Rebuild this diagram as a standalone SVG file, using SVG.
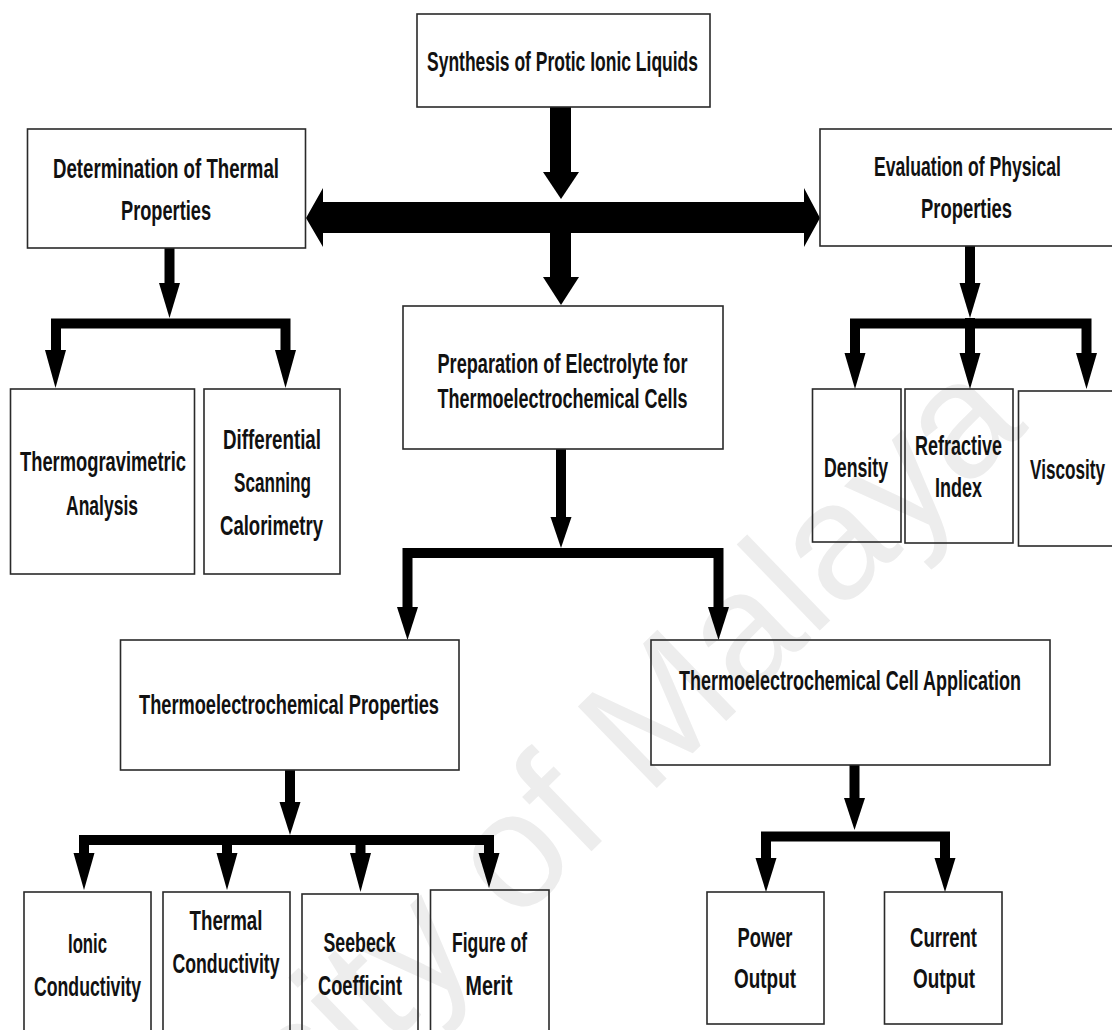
<svg xmlns="http://www.w3.org/2000/svg" width="1112" height="1030" viewBox="0 0 1112 1030">
<style>
.box{fill:none;stroke:#2a2a2a;stroke-width:1.6}
.t{font-family:"Liberation Sans",Arial,sans-serif;font-weight:bold;font-size:28px;fill:#111;text-anchor:middle}
.ln{stroke:#000;stroke-width:10;fill:none}
.hd{fill:#000}
.wm{font-family:"Liberation Sans",Arial,sans-serif;font-weight:normal;font-size:165px;fill:#ededed}
</style>
<rect width="1112" height="1030" fill="#fff"/>
<text class="wm" x="515" y="925" text-anchor="start" transform="rotate(-44 515 925)">of Malaya</text>
<text class="wm" x="515" y="925" text-anchor="end" transform="rotate(-44 515 925) translate(-46 0)">University</text>

<g id="connectors">
  <!-- synthesis trunk -->
  <rect x="550" y="107" width="21" height="70" class="hd"/>
  <polygon class="hd" points="543,172 579,172 561,199"/>
  <polygon class="hd" points="306,218 323,188 323,202 804,202 804,188 820,218 804,247 804,233 323,233 323,247"/>
  <rect x="550" y="233" width="21" height="46" class="hd"/>
  <polygon class="hd" points="543,277 579,277 561,305"/>
  <!-- determination -->
  <line class="ln" x1="169.5" y1="248" x2="169.5" y2="286"/>
  <polygon class="hd" points="159,283 180,283 169.5,318"/>
  <polyline class="ln" points="56,352 56,323.5 285.5,323.5 285.5,352"/>
  <polygon class="hd" points="45,350 66,350 55.5,388"/>
  <polygon class="hd" points="275,350 296,350 285.5,388"/>
  <!-- evaluation -->
  <line class="ln" x1="970" y1="246" x2="970" y2="286"/>
  <polygon class="hd" points="959.5,283 980.5,283 970,318"/>
  <polyline class="ln" points="855,356 855,323.5 1086.5,323.5 1086.5,356"/>
  <line class="ln" x1="970" y1="318" x2="970" y2="356"/>
  <polygon class="hd" points="844.5,353 865.5,353 855,389"/>
  <polygon class="hd" points="959.5,353 980.5,353 970,389"/>
  <polygon class="hd" points="1076,353 1097,353 1086.5,389"/>
  <!-- preparation -->
  <line class="ln" x1="561" y1="449" x2="561" y2="520"/>
  <polygon class="hd" points="550.5,517 571.5,517 561,548"/>
  <polyline class="ln" points="407.5,610 407.5,553 718.5,553 718.5,610"/>
  <polygon class="hd" points="397,607 418,607 407.5,640"/>
  <polygon class="hd" points="708,607 729,607 718.5,640"/>
  <!-- thermoelectrochemical properties -->
  <line class="ln" x1="290" y1="770" x2="290" y2="805"/>
  <polygon class="hd" points="279.5,802 300.5,802 290,835"/>
  <polyline class="ln" points="84,856 84,840 489,840 489,856"/>
  <line class="ln" x1="227" y1="840" x2="227" y2="856"/>
  <line class="ln" x1="360.5" y1="840" x2="360.5" y2="856"/>
  <polygon class="hd" points="73.5,853 94.5,853 84,890"/>
  <polygon class="hd" points="216.5,853 237.5,853 227,890"/>
  <polygon class="hd" points="350,853 371,853 360.5,892"/>
  <polygon class="hd" points="478.5,853 499.5,853 489,888"/>
  <!-- cell application -->
  <line class="ln" x1="854.5" y1="765" x2="854.5" y2="801"/>
  <polygon class="hd" points="844,798 865,798 854.5,830"/>
  <polyline class="ln" points="766,861 766,836.5 945,836.5 945,861"/>
  <polygon class="hd" points="755.5,858 776.5,858 766,892"/>
  <polygon class="hd" points="934.5,858 955.5,858 945,892"/>
</g>

<g id="synthesis">
  <rect class="box" x="417" y="14" width="293" height="93"/>
  <text class="t" x="562.5" y="71" textLength="271" lengthAdjust="spacingAndGlyphs">Synthesis of Protic Ionic Liquids</text>
</g>
<g id="determination">
  <rect class="box" x="27.5" y="129" width="278" height="119"/>
  <text class="t" x="166" y="178" textLength="226" lengthAdjust="spacingAndGlyphs">Determination of Thermal</text>
  <text class="t" x="166" y="220" textLength="90" lengthAdjust="spacingAndGlyphs">Properties</text>
</g>
<g id="evaluation">
  <rect class="box" x="820" y="129" width="300" height="117"/>
  <text class="t" x="967.5" y="176" textLength="187" lengthAdjust="spacingAndGlyphs">Evaluation of Physical</text>
  <text class="t" x="966.5" y="218" textLength="91" lengthAdjust="spacingAndGlyphs">Properties</text>
</g>
<g id="preparation">
  <rect class="box" x="403" y="306" width="320" height="143"/>
  <text class="t" x="562.5" y="373" textLength="250" lengthAdjust="spacingAndGlyphs">Preparation of Electrolyte for</text>
  <text class="t" x="562.5" y="408" textLength="250" lengthAdjust="spacingAndGlyphs">Thermoelectrochemical Cells</text>
</g>
<g id="tga">
  <rect class="box" x="10.5" y="389" width="184" height="185"/>
  <text class="t" x="103" y="471" textLength="166" lengthAdjust="spacingAndGlyphs">Thermogravimetric</text>
  <text class="t" x="102" y="515" textLength="72" lengthAdjust="spacingAndGlyphs">Analysis</text>
</g>
<g id="dsc">
  <rect class="box" x="204" y="389" width="136" height="185"/>
  <text class="t" x="272" y="449" textLength="98" lengthAdjust="spacingAndGlyphs">Differential</text>
  <text class="t" x="272.5" y="492" textLength="77" lengthAdjust="spacingAndGlyphs">Scanning</text>
  <text class="t" x="271.5" y="535" textLength="103" lengthAdjust="spacingAndGlyphs">Calorimetry</text>
</g>
<g id="density">
  <rect class="box" x="812.5" y="389" width="88.5" height="153"/>
  <text class="t" x="856" y="477" textLength="64" lengthAdjust="spacingAndGlyphs">Density</text>
</g>
<g id="refractive">
  <rect class="box" x="905" y="389" width="108" height="154"/>
  <text class="t" x="958.5" y="455" textLength="87" lengthAdjust="spacingAndGlyphs">Refractive</text>
  <text class="t" x="958.5" y="497" textLength="47" lengthAdjust="spacingAndGlyphs">Index</text>
</g>
<g id="viscosity">
  <rect class="box" x="1018.5" y="391" width="100" height="155"/>
  <text class="t" x="1067.5" y="479" textLength="75" lengthAdjust="spacingAndGlyphs">Viscosity</text>
</g>
<g id="te-properties">
  <rect class="box" x="120.5" y="640" width="338.5" height="130"/>
  <text class="t" x="289" y="714" textLength="300" lengthAdjust="spacingAndGlyphs">Thermoelectrochemical Properties</text>
</g>
<g id="cell-application">
  <rect class="box" x="651" y="640" width="399" height="125"/>
  <text class="t" x="850" y="690" textLength="342" lengthAdjust="spacingAndGlyphs">Thermoelectrochemical Cell Application</text>
</g>
<g id="ionic">
  <rect class="box" x="24" y="892" width="127" height="145"/>
  <text class="t" x="87.5" y="953" textLength="39" lengthAdjust="spacingAndGlyphs">Ionic</text>
  <text class="t" x="87.5" y="996" textLength="107" lengthAdjust="spacingAndGlyphs">Conductivity</text>
</g>
<g id="thermal">
  <rect class="box" x="163" y="892" width="127" height="145"/>
  <text class="t" x="226" y="930" textLength="73" lengthAdjust="spacingAndGlyphs">Thermal</text>
  <text class="t" x="226" y="973" textLength="107" lengthAdjust="spacingAndGlyphs">Conductivity</text>
</g>
<g id="seebeck">
  <rect class="box" x="302" y="894" width="116" height="145"/>
  <text class="t" x="359.5" y="952" textLength="72" lengthAdjust="spacingAndGlyphs">Seebeck</text>
  <text class="t" x="360" y="995" textLength="84" lengthAdjust="spacingAndGlyphs">Coefficint</text>
</g>
<g id="figure">
  <rect class="box" x="430.5" y="890" width="118.5" height="147"/>
  <text class="t" x="489.5" y="952" textLength="75" lengthAdjust="spacingAndGlyphs">Figure of</text>
  <text class="t" x="489" y="995" textLength="47" lengthAdjust="spacingAndGlyphs">Merit</text>
</g>
<g id="power">
  <rect class="box" x="707" y="892" width="117" height="132"/>
  <text class="t" x="765" y="947" textLength="55" lengthAdjust="spacingAndGlyphs">Power</text>
  <text class="t" x="765" y="988" textLength="62" lengthAdjust="spacingAndGlyphs">Output</text>
</g>
<g id="current">
  <rect class="box" x="884.5" y="892" width="117.5" height="132"/>
  <text class="t" x="943.5" y="947" textLength="67" lengthAdjust="spacingAndGlyphs">Current</text>
  <text class="t" x="944" y="988" textLength="62" lengthAdjust="spacingAndGlyphs">Output</text>
</g>
</svg>
